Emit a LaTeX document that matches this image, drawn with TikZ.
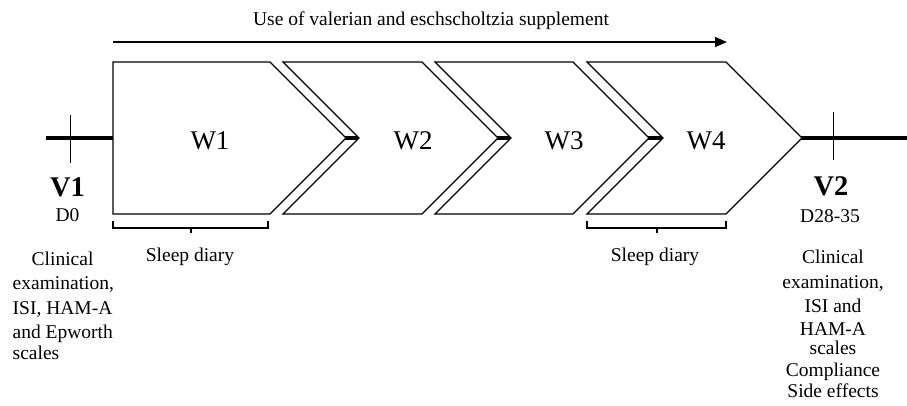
\documentclass[tikz,border=0pt]{standalone}
\usepackage{fontspec}
\setmainfont{Liberation Serif}
\usetikzlibrary{arrows.meta}
\begin{document}
\begin{tikzpicture}[x=1pt,y=-1pt,
  chev/.style={draw=black,fill=white,line width=1.3pt,line join=miter},
  tickline/.style={draw=black,line width=0.9pt},
  timeline/.style={draw=black,line width=4.5pt},
  txt/.style={font=\fontsize{19.5}{20}\selectfont,inner sep=0pt},
  wlab/.style={font=\fontsize{27}{30}\selectfont,inner sep=0pt,anchor=base},
  vlab/.style={font=\fontsize{28.5}{30}\selectfont\bfseries,inner sep=0pt,anchor=base},
  bracket/.style={draw=black,line width=1.2pt},
  toparrow/.style={draw=black,line width=1.3pt,-{Triangle[length=12pt,width=10pt]}},
]
\useasboundingbox (0,0) rectangle (907,405);

% timeline
\coordinate (tlL) at (46,138);
\coordinate (tlR) at (907,138);
\draw[timeline] (tlL) -- (tlR);

% chevrons
\draw[chev] (113,62) -- (270,62) -- (346,138) -- (270,214) -- (113,214) -- cycle;
\draw[chev] (283,62) -- (422,62) -- (498,138) -- (422,214) -- (283,214) -- (359,138) -- cycle;
\draw[chev] (435,62) -- (573,62) -- (649,138) -- (573,214) -- (435,214) -- (511,138) -- cycle;
\draw[chev] (587,62) -- (726,62) -- (802,138) -- (726,214) -- (587,214) -- (663,138) -- cycle;

\node[wlab] (w1) at (210,149) {W1};
\node[wlab] (w2) at (413,149) {W2};
\node[wlab] (w3) at (564,149) {W3};
\node[wlab] (w4) at (706,149) {W4};

% visit ticks
\coordinate (t1a) at (70,115);
\coordinate (t1b) at (70,163);
\coordinate (t2a) at (833,112);
\coordinate (t2b) at (833,160);
\draw[tickline] (t1a) -- (t1b);
\draw[tickline] (t2a) -- (t2b);

% top arrow
\coordinate (arrS) at (113,42);
\coordinate (arrE) at (727,42);
\draw[toparrow] (arrS) -- (arrE);
\node[txt,anchor=base] (sup) at (431,25) {Use of valerian and eschscholtzia supplement};

% visit labels
\node[vlab] (v1) at (67.5,196) {V1};
\node[txt,anchor=base] (d0) at (67.5,221) {D0};
\node[vlab] (v2) at (831,195) {V2};
\node[txt,anchor=base] (d2) at (830,222) {D28-35};

% brackets
\draw[bracket] (113,221) |- (191,228) -| (268,221);
\draw[bracket] (191,228) -- (191,233);
\draw[bracket] (587,221) |- (657,228) -| (726,221);
\draw[bracket] (657,228) -- (657,233);
\node[txt,anchor=base] (sd1) at (190,261) {Sleep diary};
\node[txt,anchor=base] (sd4) at (655,261) {Sleep diary};

% bottom texts
\node[txt,anchor=north west,align=left] (v1txt) at (12.5,251)
  {\hspace*{19pt}\rule{0pt}{14pt}Clinical\\[4.3pt]examination,\\[4.5pt]ISI, HAM-A\\[4.3pt]and Epworth\\[0.7pt]scales};
\node[txt,anchor=north,align=center] (v2txt) at (833,249.3)
  {\rule{0pt}{14pt}Clinical\\[5pt]examination,\\[4.4pt]ISI and\\[2.3pt]HAM-A\\[-0.7pt]scales\\[2.4pt]Compliance\\[0.6pt]Side effects};
\end{tikzpicture}
\end{document}
